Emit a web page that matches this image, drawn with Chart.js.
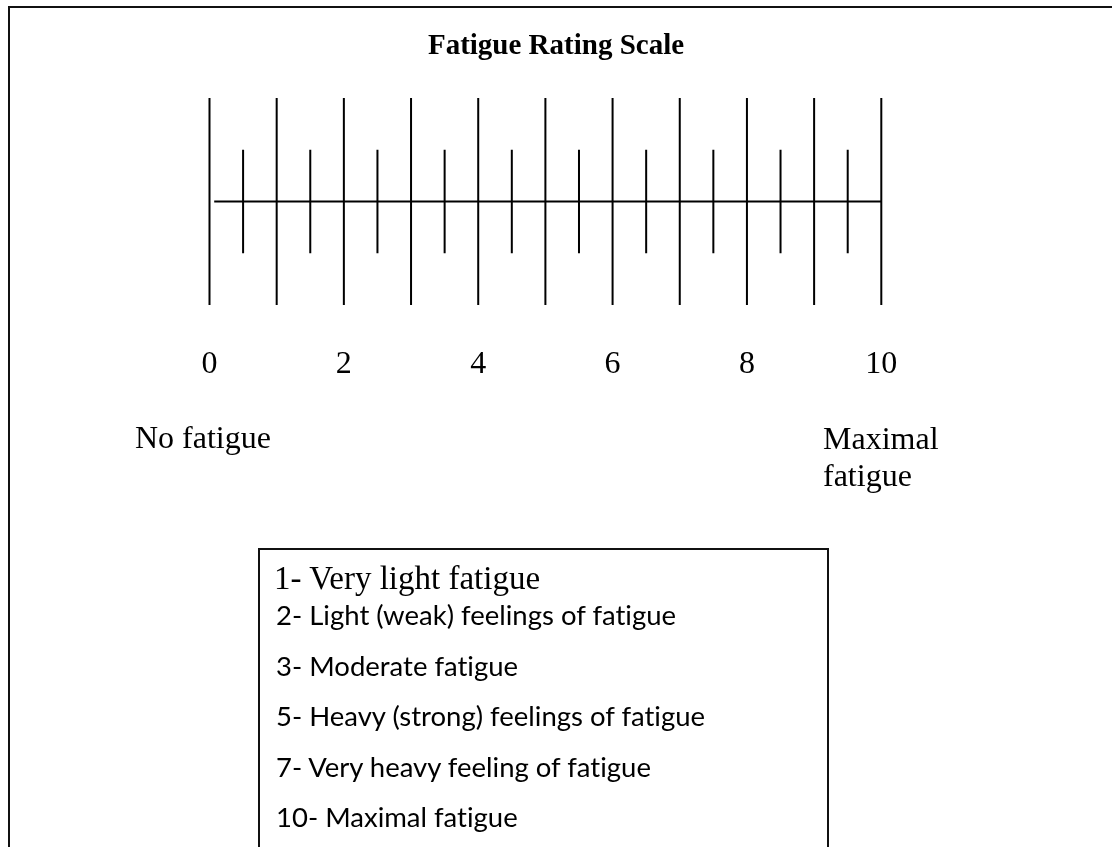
<!DOCTYPE html>
<html>
<head>
    <title>Fatigue Rating Scale</title>
    <script src="https://cdn.jsdelivr.net/npm/chart.js"></script>
    <style>
        html, body { margin: 0; padding: 0; width: 1112px; height: 847px; overflow: hidden; background: #fff; }
        #frame { position: absolute; left: 8px; top: 6px; width: 1200px; height: 1000px; border: 2px solid #111; }
        #wrap { position: absolute; left: 0; top: 0; width: 1112px; height: 847px; }
        .serif { font-family: "Liberation Serif", "Times New Roman", serif; color: #000; position: absolute; white-space: nowrap; }
        #title { left: 0; width: 1112px; top: 28px; text-align: center; font-size: 29px; font-weight: bold; line-height: 32px; }
        #lowLabel { left: 135px; top: 421px; font-size: 32px; line-height: 32px; }
        #highLabel { left: 823px; top: 420px; font-size: 32px; line-height: 37px; }
        #notes { position: absolute; left: 258px; top: 548px; width: 567px; height: 400px; border: 2px solid #111; }
        #notes .first { position: absolute; left: 14px; top: 12px; font-size: 33px; line-height: 32px; font-family: "Liberation Serif", serif; white-space: nowrap; }
        #notes .rest { position: absolute; left: 16px; top: 40px; font-family: Lato, "Open Sans", sans-serif; font-size: 27.5px; line-height: 50.6px; white-space: nowrap; font-variant-ligatures: none; }
    </style>
</head>
<body>
    <div id="frame"></div>
    <div id="wrap"><canvas id="myChart" width="1112" height="847"></canvas></div>
    <div id="title" class="serif">Fatigue Rating Scale</div>
    <div id="lowLabel" class="serif">No fatigue</div>
    <div id="highLabel" class="serif">Maximal<br>fatigue</div>
    <div id="notes"><div class="first"></div><div class="rest"></div></div>

    <script>
        // scale values
        var longTicks = [0, 1, 2, 3, 4, 5, 6, 7, 8, 9, 10];
        var shortTicks = [0.5, 1.5, 2.5, 3.5, 4.5, 5.5, 6.5, 7.5, 8.5, 9.5];
        var longHalf = 1;     // long marks go from -1 to 1
        var shortHalf = 0.5;  // short marks half as long
        var lineStart = 0.07; // horizontal line starts just right of 0
        var lineEnd = 10;
        var labelValues = [0, 2, 4, 6, 8, 10];
        var ratingNotes = [
            '1- Very light fatigue',
            '2- Light (weak) feelings of fatigue',
            '3- Moderate fatigue',
            '5- Heavy (strong) feelings of fatigue',
            '7- Very heavy feeling of fatigue',
            '10- Maximal fatigue'
        ];

        // fill the notes box
        document.querySelector('#notes .first').textContent = ratingNotes[0];
        document.querySelector('#notes .rest').innerHTML = ratingNotes.slice(1).join('<br>');

        // each mark is a two point segment, null breaks the line
        function marks(xs, half) {
            var pts = [];
            xs.forEach(function (x) {
                pts.push({x: x, y: -half});
                pts.push({x: x, y: half});
                pts.push({x: x, y: null});
            });
            return pts;
        }

        function seg(data) {
            return {
                data: data,
                borderColor: '#000',
                borderWidth: 2,
                pointRadius: 0,
                spanGaps: false,
                clip: false,
                fill: false
            };
        }

        var ctx = document.getElementById('myChart').getContext('2d');
        var myChart = new Chart(ctx, {
            type: 'line',
            data: {
                datasets: [
                    seg(marks(longTicks, longHalf)),
                    seg(marks(shortTicks, shortHalf)),
                    seg([{x: lineStart, y: 0}, {x: lineEnd, y: 0}])
                ]
            },
            options: {
                responsive: false,
                animation: false,
                layout: {
                    padding: {left: 209.5, right: 230.7, top: 98, bottom: 423.6}
                },
                plugins: {
                    legend: {display: false},
                    tooltip: {enabled: false}
                },
                scales: {
                    x: {
                        type: 'linear',
                        min: 0,
                        max: 10,
                        afterBuildTicks: function (scale) {
                            scale.ticks = labelValues.map(function (v) { return {value: v}; });
                        },
                        grid: {display: false, drawTicks: false},
                        border: {display: false},
                        ticks: {
                            padding: 40,
                            color: '#000',
                            maxRotation: 0,
                            autoSkip: false,
                            font: {family: '"Liberation Serif", serif', size: 32}
                        }
                    },
                    y: {
                        type: 'linear',
                        min: -1,
                        max: 1,
                        display: false
                    }
                }
            }
        });
    </script>
</body>
</html>
